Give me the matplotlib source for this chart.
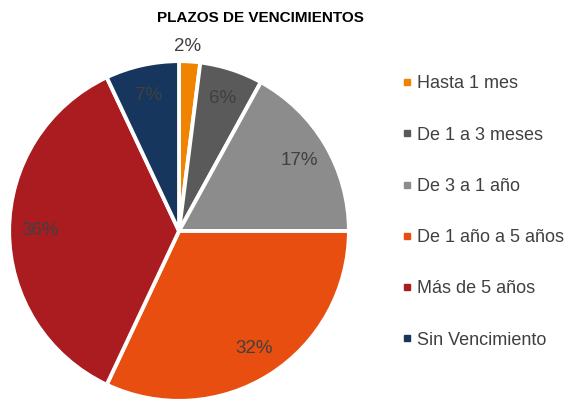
import matplotlib.pyplot as plt
from matplotlib.lines import Line2D

plt.rcParams['font.family'] = ['Liberation Sans', 'DejaVu Sans']

# Data
categorias = ["Hasta 1 mes", "De 1 a 3 meses", "De 3 a 1 año",
              "De 1 año a 5 años", "Más de 5 años", "Sin Vencimiento"]
valores = [2, 6, 17, 32, 36, 7]
colores = ["#F08300", "#5A5A5A", "#8C8C8C", "#E84E0F", "#AA1C1F", "#17365D"]

fig = plt.figure(figsize=(5.72, 4), dpi=100)
ax = fig.add_axes([0.016, -0.0025, 0.594, 0.85])

wedges, texts, autotexts = ax.pie(
    valores, colors=colores, startangle=90, counterclock=False,
    autopct='%1.0f%%', pctdistance=0.82,
    wedgeprops=dict(edgecolor='white', linewidth=2.8),
    textprops=dict(color='#404040', fontsize=13.5))

# first label sits outside the small slice
autotexts[0].set_position((0.05, 1.085))
ax.set_xlim(-1, 1)
ax.set_ylim(-1, 1)
ax.set_aspect('equal')

fig.text(0.455, 0.955, "PLAZOS DE VENCIMIENTOS", ha='center', va='center',
         fontsize=11, fontweight='bold', color='black')

handles = [Line2D([0], [0], marker='s', linestyle='', markersize=4.5,
                  markerfacecolor=c, markeredgecolor=c) for c in colores]
leg = fig.legend(handles, categorias, loc='upper left',
                 bbox_to_anchor=(0.69, 0.83), frameon=False,
                 fontsize=13, labelspacing=1.9, handlelength=0.6,
                 handletextpad=0.25, borderaxespad=0)
for t in leg.get_texts():
    t.set_color('#404040')

fig.savefig("out.png", dpi=100)
